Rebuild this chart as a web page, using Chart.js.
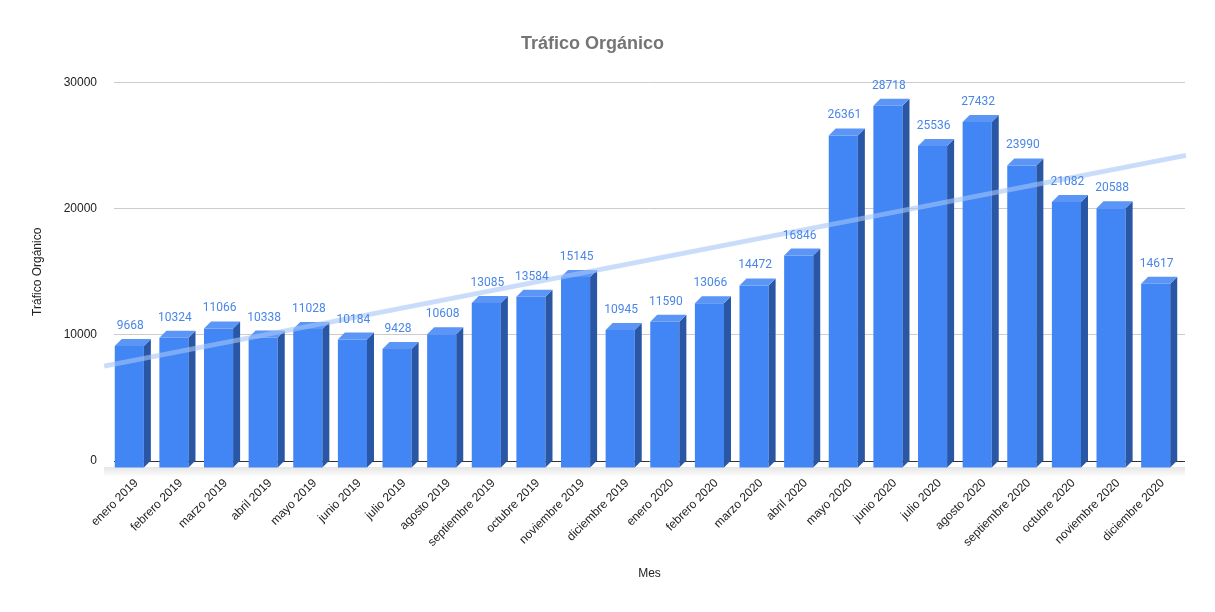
<!DOCTYPE html>
<html>
<head>
<meta charset="utf-8">
<script src="https://cdn.jsdelivr.net/npm/chart.js@4"></script>
<style>
  html, body { margin: 0; padding: 0; background: #fff; }
  #wrap { width: 1215px; height: 612px; position: relative; }
</style>
</head>
<body>
<div id="wrap"><canvas id="c"></canvas></div>
<script>
const categories = ["enero 2019","febrero 2019","marzo 2019","abril 2019","mayo 2019","junio 2019","julio 2019","agosto 2019","septiembre 2019","octubre 2019","noviembre 2019","diciembre 2019","enero 2020","febrero 2020","marzo 2020","abril 2020","mayo 2020","junio 2020","julio 2020","agosto 2020","septiembre 2020","octubre 2020","noviembre 2020","diciembre 2020"];
const traffic = [9668,10324,11066,10338,11028,10184,9428,10608,13085,13584,15145,10945,11590,13066,14472,16846,26361,28718,25536,27432,23990,21082,20588,14617];
const trendX = [-0.72, 23.52];
const trendY = [7520, 24230];
const yTicks = [0, 10000, 20000, 30000];

const DEPTH = 7;
const FRONT = '#4285f4', SIDE = '#2a56a6', TOP = '#5b95f6';

const bar3d = {
  id: 'bar3d',
  beforeDatasetDraw(chart, args) {
    if (args.index !== 0) return;
    const ctx = chart.ctx;
    const ca = chart.chartArea;
    const base = chart.scales.y.getPixelForValue(0);
    const g = ctx.createLinearGradient(0, base + DEPTH - 1, 0, base + DEPTH + 9);
    g.addColorStop(0, 'rgba(0,0,0,0.10)');
    g.addColorStop(1, 'rgba(0,0,0,0)');
    ctx.save();
    ctx.fillStyle = g;
    ctx.fillRect(ca.left - 10, base + DEPTH - 1, ca.right - ca.left + 10, 10);
    ctx.restore();
    ctx.save();
    ctx.translate(-DEPTH, DEPTH);
  },
  afterDatasetDraw(chart, args) {
    if (args.index !== 0) return;
    const ctx = chart.ctx;
    const meta = chart.getDatasetMeta(0);
    meta.data.forEach(el => {
      const p = el.getProps(['x', 'y', 'base', 'width'], true);
      const l = p.x - p.width / 2, r = p.x + p.width / 2;
      ctx.fillStyle = SIDE;
      ctx.beginPath();
      ctx.moveTo(r, p.y);
      ctx.lineTo(r + DEPTH, p.y - DEPTH);
      ctx.lineTo(r + DEPTH, p.base - DEPTH);
      ctx.lineTo(r, p.base);
      ctx.closePath();
      ctx.fill();
      ctx.fillStyle = TOP;
      ctx.beginPath();
      ctx.moveTo(l, p.y);
      ctx.lineTo(l + DEPTH, p.y - DEPTH);
      ctx.lineTo(r + DEPTH, p.y - DEPTH);
      ctx.lineTo(r, p.y);
      ctx.closePath();
      ctx.fill();
    });
    ctx.restore();
  },
  afterDatasetsDraw(chart) {
    const ctx = chart.ctx;
    const meta = chart.getDatasetMeta(0);
    ctx.save();
    ctx.font = '12px Roboto';
    ctx.fillStyle = '#4a86e8';
    ctx.textAlign = 'center';
    ctx.textBaseline = 'middle';
    meta.data.forEach((el, i) => {
      const p = el.getProps(['x', 'y'], true);
      ctx.fillText(String(traffic[i]), p.x - DEPTH + 1, p.y - 13);
    });
    ctx.restore();
  }
};

new Chart(document.getElementById('c'), {
  type: 'bar',
  data: {
    labels: categories,
    datasets: [
      {
        label: 'Tráfico Orgánico',
        data: traffic,
        backgroundColor: FRONT,
        borderWidth: 0,
        grouped: false,
        barPercentage: 0.8,
        categoryPercentage: 0.815,
        order: 2,
        clip: false
      },
      {
        type: 'line',
        label: 'Tendencia',
        data: trendX.map((x, i) => ({ x: x, y: trendY[i] })),
        xAxisID: 'xt',
        borderColor: 'rgba(165,198,248,0.6)',
        borderWidth: 5,
        pointRadius: 0,
        fill: false,
        order: 1,
        clip: false
      }
    ]
  },
  options: {
    responsive: true,
    maintainAspectRatio: false,
    animation: false,
    devicePixelRatio: 1,
    layout: { padding: { left: 0, right: 30, top: 0, bottom: 0 } },
    plugins: {
      legend: { display: false },
      tooltip: { enabled: false },
      title: {
        display: true,
        text: 'Tráfico Orgánico',
        color: '#757575',
        font: { family: 'Liberation Sans', size: 18, weight: 'bold' },
        padding: { top: 33, bottom: 28 }
      }
    },
    scales: {
      x: {
        type: 'category',
        grid: { display: false, drawTicks: false },
        border: { display: false },
        ticks: {
          color: '#222',
          font: { family: 'Liberation Sans', size: 12 },
          minRotation: 45,
          maxRotation: 45,
          autoSkip: false,
          padding: 15
        },
        title: {
          display: true,
          text: 'Mes',
          color: '#222',
          font: { family: 'Liberation Sans', size: 12 },
          padding: { top: 0, bottom: 31 }
        },
        afterFit(s) { s.height = 151; }
      },
      xt: {
        type: 'linear',
        display: false,
        offset: false,
        grid: { offset: false },
        min: -0.5,
        max: 23.5
      },
      y: {
        min: 0,
        max: 30000,
        afterBuildTicks(s) { s.ticks = yTicks.map(v => ({ value: v })); },
        grid: {
          drawTicks: false,
          color: ctx => ctx.tick && ctx.tick.value === 0 ? '#333' : '#ccc'
        },
        border: { display: false },
        ticks: {
          color: '#222',
          font: { family: 'Liberation Sans', size: 12 },
          padding: 17,
          callback: v => String(v)
        },
        title: {
          display: true,
          text: 'Tráfico Orgánico',
          color: '#222',
          font: { family: 'Liberation Sans', size: 12 },
          padding: { top: 30, bottom: 0 }
        },
        afterFit(s) { s.width = 114; }
      }
    }
  },
  plugins: [bar3d]
});
</script>
</body>
</html>
